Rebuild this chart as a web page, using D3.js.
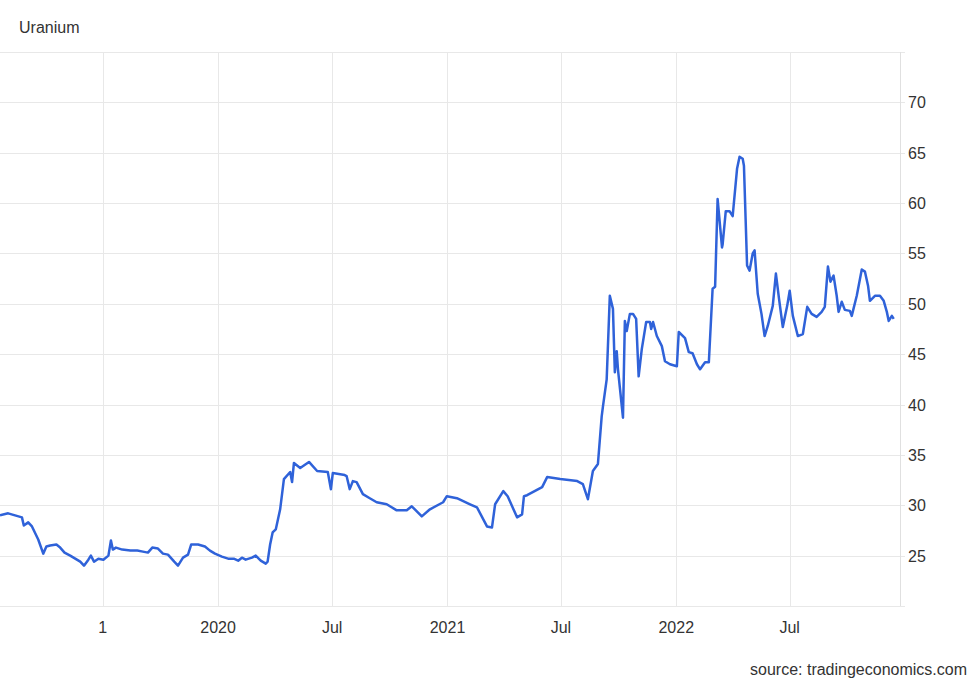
<!DOCTYPE html>
<html>
<head>
<meta charset="utf-8">
<script src="https://cdn.jsdelivr.net/npm/d3@7"></script>
<style>
  html, body { margin: 0; padding: 0; background: #fff; }
  svg { display: block; font-family: "Liberation Sans", Arial, sans-serif; }
</style>
</head>
<body>
<svg id="chart" width="980" height="679"></svg>
<script>
const title = "Uranium";
const source = "source: tradingeconomics.com";

const dates = [
  "2019-01-18","2019-01-31","2019-02-11","2019-02-22","2019-02-25","2019-03-04","2019-03-10","2019-03-20","2019-03-28","2019-04-02",
  "2019-04-08","2019-04-18","2019-04-24","2019-05-01","2019-05-10","2019-05-18","2019-05-26","2019-06-01","2019-06-08","2019-06-12",
  "2019-06-17","2019-06-24","2019-07-02","2019-07-10","2019-07-14","2019-07-17","2019-07-22","2019-08-01","2019-08-14","2019-08-25",
  "2019-09-03","2019-09-11","2019-09-18","2019-09-27","2019-10-05","2019-10-13","2019-10-23","2019-10-29","2019-11-06","2019-11-14",
  "2019-11-19","2019-11-30","2019-12-11","2019-12-19","2019-12-27","2020-01-07","2020-01-17","2020-01-26","2020-02-02","2020-02-08",
  "2020-02-14","2020-02-24","2020-03-01","2020-03-09","2020-03-17","2020-03-20","2020-03-24","2020-03-28","2020-04-02","2020-04-09",
  "2020-04-15","2020-04-25","2020-04-28","2020-05-01","2020-05-11","2020-05-25","2020-06-07","2020-06-24","2020-06-29","2020-07-02",
  "2020-07-21","2020-07-24","2020-07-29","2020-08-03","2020-08-09","2020-08-19","2020-08-30","2020-09-10","2020-09-26","2020-10-12",
  "2020-10-28","2020-11-05","2020-11-21","2020-12-04","2020-12-25","2020-12-31","2021-01-16","2021-02-06","2021-02-17","2021-03-05",
  "2021-03-13","2021-03-18","2021-03-31","2021-04-07","2021-04-22","2021-04-30","2021-05-03","2021-05-08","2021-06-01","2021-06-09",
  "2021-06-30","2021-07-27","2021-08-05","2021-08-13","2021-08-21","2021-08-29","2021-09-04","2021-09-06","2021-09-12","2021-09-17",
  "2021-09-22","2021-09-25","2021-09-28","2021-09-30","2021-10-08","2021-10-11","2021-10-14","2021-10-19","2021-10-24","2021-10-29",
  "2021-11-02","2021-11-07","2021-11-14","2021-11-20","2021-11-22","2021-11-25","2021-12-01","2021-12-09","2021-12-14","2021-12-22",
  "2022-01-02","2022-01-05","2022-01-15","2022-01-21","2022-01-27","2022-02-03","2022-02-08","2022-02-16","2022-02-22","2022-02-28",
  "2022-03-04","2022-03-08","2022-03-15","2022-03-16","2022-03-21","2022-03-27","2022-04-01","2022-04-08","2022-04-12","2022-04-17",
  "2022-04-19","2022-04-24","2022-04-28","2022-05-03","2022-05-06","2022-05-11","2022-05-17","2022-05-22","2022-05-27","2022-06-04",
  "2022-06-09","2022-06-14","2022-06-20","2022-06-27","2022-07-01","2022-07-06","2022-07-14","2022-07-22","2022-07-29","2022-08-05",
  "2022-08-13","2022-08-21","2022-08-26","2022-08-31","2022-09-04","2022-09-09","2022-09-14","2022-09-17","2022-09-22","2022-09-27",
  "2022-10-05","2022-10-08","2022-10-16","2022-10-24","2022-10-29","2022-11-03","2022-11-06","2022-11-14","2022-11-22","2022-11-28",
  "2022-12-03","2022-12-06","2022-12-11","2022-12-14"
];
const prices = [
  29.0,29.2,29.0,28.8,28.0,28.3,27.9,26.6,25.2,25.9,
  26.0,26.1,25.8,25.3,25.0,24.7,24.4,24.0,24.6,25.0,
  24.4,24.7,24.6,25.0,26.5,25.6,25.8,25.6,25.5,25.5,
  25.4,25.3,25.8,25.7,25.2,25.1,24.4,24.0,24.8,25.1,
  26.1,26.1,25.9,25.5,25.2,24.9,24.7,24.7,24.5,24.8,
  24.6,24.8,25.0,24.5,24.2,24.4,26.1,27.3,27.6,29.6,
  32.6,33.3,32.3,34.2,33.7,34.3,33.4,33.3,31.6,33.2,
  33.0,32.9,31.6,32.4,32.3,31.1,30.7,30.3,30.1,29.5,
  29.5,29.9,28.9,29.6,30.3,30.9,30.7,30.1,29.8,27.9,
  27.8,30.1,31.4,30.9,28.8,29.1,30.9,31.0,31.8,32.8,
  32.6,32.4,32.1,30.6,33.4,34.1,38.8,39.8,42.5,50.8,
  49.5,43.2,45.3,43.5,38.7,48.3,47.3,49.0,49.0,48.5,
  42.8,45.5,48.2,48.2,47.5,48.2,46.8,45.8,44.3,44.0,
  43.8,47.2,46.6,45.2,45.1,44.0,43.5,44.2,44.2,51.5,
  51.7,60.4,55.6,55.9,59.2,59.2,58.7,63.4,64.6,64.4,
  63.7,53.8,53.3,55.0,55.3,51.0,49.0,46.8,47.8,49.8,
  53.0,50.5,47.7,49.8,51.3,48.8,46.8,47.0,49.7,49.0,
  48.7,49.2,49.7,53.7,52.2,52.8,50.8,49.2,50.2,49.4,
  49.3,48.8,50.8,53.4,53.2,51.8,50.3,50.8,50.8,50.3,
  49.2,48.3,48.8,48.5
];
const yTicks = [25, 30, 35, 40, 45, 50, 55, 60, 65, 70];
const xTickDates = ["2019-07-01","2020-01-01","2020-07-01","2021-01-01","2021-07-01","2022-01-01","2022-07-01"];
const xTickLabels = ["1", "2020", "Jul", "2021", "Jul", "2022", "Jul"];

const parse = d3.timeParse("%Y-%m-%d");
const data = dates.map((d, i) => ({ date: parse(d), value: prices[i] }));

const svg = d3.select("#chart");
const plotLeft = 0, plotRight = 900, plotTop = 52, plotBottom = 606;

const x = d3.scaleTime()
  .domain([parse("2019-01-18"), parse("2022-12-24")])
  .range([plotLeft, plotRight]);
const y = d3.scaleLinear().domain([20, 75]).range([plotBottom, plotTop]);

const gridColor = "#e8e8e8";
const textColor = "#333";
const fontSize = 16;

const g = svg.append("g");
g.selectAll("line.hgrid")
  .data(yTicks.concat([20, 75]))
  .join("line")
  .attr("class", "hgrid")
  .attr("x1", plotLeft).attr("x2", plotRight + 5)
  .attr("y1", d => Math.round(y(d)) + 0.5).attr("y2", d => Math.round(y(d)) + 0.5)
  .attr("stroke", gridColor).attr("stroke-width", 1);

g.selectAll("line.vgrid")
  .data(xTickDates)
  .join("line")
  .attr("class", "vgrid")
  .attr("x1", d => Math.round(x(parse(d))) + 0.5).attr("x2", d => Math.round(x(parse(d))) + 0.5)
  .attr("y1", y(75)).attr("y2", y(20))
  .attr("stroke", gridColor).attr("stroke-width", 1);

g.append("line")
  .attr("x1", plotRight + 0.5).attr("x2", plotRight + 0.5)
  .attr("y1", y(75)).attr("y2", y(20))
  .attr("stroke", "#e0e0e0").attr("stroke-width", 1);

svg.append("g").selectAll("text")
  .data(yTicks)
  .join("text")
  .attr("x", plotRight + 8)
  .attr("y", d => y(d) + 6)
  .attr("font-size", fontSize)
  .attr("fill", textColor)
  .text(d => d);

svg.append("g").selectAll("text")
  .data(xTickDates)
  .join("text")
  .attr("x", d => x(parse(d)))
  .attr("y", 633)
  .attr("text-anchor", "middle")
  .attr("font-size", fontSize)
  .attr("fill", textColor)
  .text((d, i) => xTickLabels[i]);

const line = d3.line()
  .x(d => x(d.date))
  .y(d => y(d.value));
svg.append("path")
  .datum(data)
  .attr("d", line)
  .attr("fill", "none")
  .attr("stroke", "#2f62d9")
  .attr("stroke-width", 2.5)
  .attr("stroke-linejoin", "round");

svg.append("text")
  .attr("x", 19).attr("y", 33)
  .attr("font-size", fontSize)
  .attr("fill", textColor)
  .text(title);

svg.append("text")
  .attr("x", 967).attr("y", 675)
  .attr("text-anchor", "end")
  .attr("font-size", fontSize)
  .attr("fill", textColor)
  .text(source);
</script>
</body>
</html>
